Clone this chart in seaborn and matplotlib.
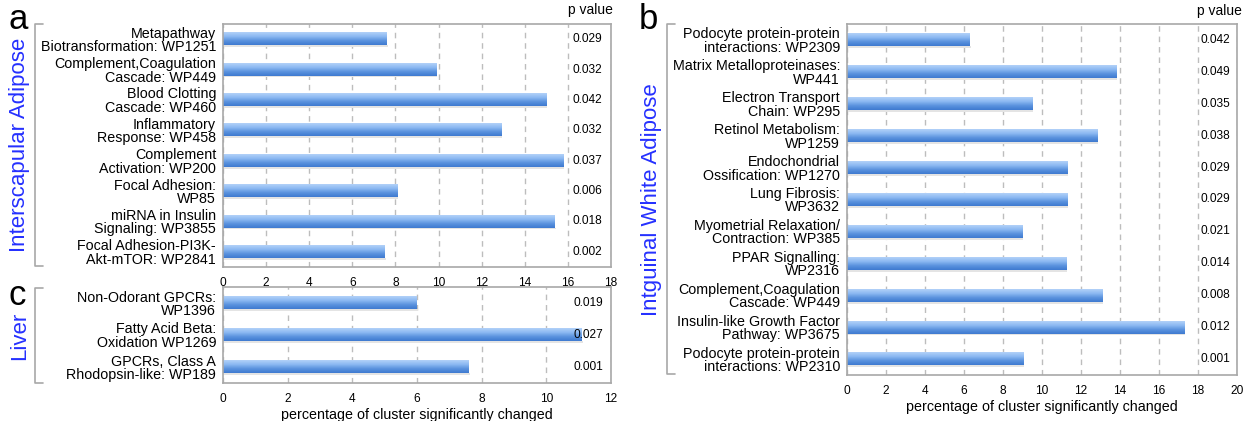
import numpy as np
import pandas as pd
import matplotlib
matplotlib.use("Agg")
import matplotlib.pyplot as plt
import seaborn as sns
from matplotlib.colors import LinearSegmentedColormap
from matplotlib.lines import Line2D

# panel a: interscapular adipose
a_labels = [
    "Metapathway\nBiotransformation: WP1251",
    "Complement,Coagulation\nCascade: WP449",
    "Blood Clotting\nCascade: WP460",
    "Inflammatory\nResponse: WP458",
    "Complement\nActivation: WP200",
    "Focal Adhesion:\nWP85",
    "miRNA in Insulin\nSignaling: WP3855",
    "Focal Adhesion-PI3K-\nAkt-mTOR: WP2841",
]
a_values = [7.6, 9.9, 15.0, 12.9, 15.8, 8.1, 15.4, 7.5]
a_pvals = ["0.029", "0.032", "0.042", "0.032", "0.037", "0.006", "0.018", "0.002"]

# panel b: inguinal white adipose
b_labels = [
    "Podocyte protein-protein\ninteractions: WP2309",
    "Matrix Metalloproteinases:\nWP441",
    "Electron Transport\nChain: WP295",
    "Retinol Metabolism:\nWP1259",
    "Endochondrial\nOssification: WP1270",
    "Lung Fibrosis:\nWP3632",
    "Myometrial Relaxation/\nContraction: WP385",
    "PPAR Signalling:\nWP2316",
    "Complement,Coagulation\nCascade: WP449",
    "Insulin-like Growth Factor\nPathway: WP3675",
    "Podocyte protein-protein\ninteractions: WP2310",
]
b_values = [6.3, 13.8, 9.5, 12.85, 11.3, 11.3, 9.0, 11.25, 13.1, 17.3, 9.05]
b_pvals = ["0.042", "0.049", "0.035", "0.038", "0.029", "0.029",
           "0.021", "0.014", "0.008", "0.012", "0.001"]

# panel c: liver
c_labels = [
    "Non-Odorant GPCRs:\nWP1396",
    "Fatty Acid Beta:\nOxidation WP1269",
    "GPCRs, Class A\nRhodopsin-like: WP189",
]
c_values = [6.0, 11.1, 7.6]
c_pvals = ["0.019", "0.027", "0.001"]

W, H = 1255, 421
GRID = "#bdbdbd"
SPINE = "#a8a8a8"
BLUE = "#2530ff"
bar_cmap = LinearSegmentedColormap.from_list("bar", ["#b2d1f8", "#8cb9f2", "#5a92de", "#3f7ad0"])

sns.set_style("white")
plt.rcParams["font.family"] = ["Liberation Sans", "DejaVu Sans"]
plt.rcParams["text.color"] = "black"
plt.rcParams["axes.labelcolor"] = "black"


def px_axes(fig, left, top, right, bottom):
    return fig.add_axes([left / W, 1 - bottom / H, (right - left) / W, (bottom - top) / H])


def draw_panel(ax, labels, values, pvals, xmax, p_x, xlabel=None):
    df = pd.DataFrame({"pathway": labels, "pct": values})
    sns.barplot(data=df, x="pct", y="pathway", orient="h", width=0.4,
                color="#7fb0ef", ax=ax)
    n = len(labels)
    grad = np.linspace(0, 1, 64).reshape(-1, 1)
    for p in list(ax.patches):
        x0, y0, w, h = p.get_x(), p.get_y(), p.get_width(), p.get_height()
        # faint shadow under the bar
        ax.fill_between([x0, x0 + w + 0.04], y0 + h, y0 + h + 0.06,
                        color="#e4e4e4", lw=0, zorder=1.5)
        ax.imshow(grad, extent=(x0, x0 + w, y0 + h, y0), aspect="auto",
                  cmap=bar_cmap, zorder=2, interpolation="bilinear")
        p.set_visible(False)
    ax.set_xlim(0, xmax)
    ax.set_ylim(n - 0.5, -0.5)
    ax.set_xticks(np.arange(0, xmax + 1, 2))
    ax.set_axisbelow(True)
    ax.xaxis.grid(True, color=GRID, linestyle=(0, (4, 3.5)), lw=1)
    for s in ax.spines.values():
        s.set_visible(True)
        s.set_color(SPINE)
        s.set_linewidth(1.2)
    ax.set_yticks(np.arange(n), labels)
    ax.set_yticks(np.arange(-0.5, n, 1), minor=True)
    ax.tick_params(axis="y", which="major", length=0, pad=5, labelsize=10.3,
                   labelcolor="black")
    ax.tick_params(axis="y", which="minor", length=4, color=SPINE, width=1.2)
    ax.tick_params(axis="x", length=4, color=SPINE, width=1.2, labelsize=8.6, pad=3,
                   labelcolor="black")
    for lab in ax.get_yticklabels():
        lab.set_linespacing(0.95)
    ax.set_ylabel("")
    if xlabel:
        ax.set_xlabel(xlabel, fontsize=10.3, labelpad=2)
    else:
        ax.set_xlabel("")
    for i, pv in enumerate(pvals):
        ax.text(p_x, i, pv, ha="left", va="center", fontsize=8.6, zorder=5)


fig = plt.figure(figsize=(W / 100, H / 100), dpi=100)

ax_a = px_axes(fig, 223, 24, 611, 267)
draw_panel(ax_a, a_labels, a_values, a_pvals, 18, 16.2)
ax_a.text(1.005, 1.03, "p value", transform=ax_a.transAxes, ha="right", va="bottom", fontsize=10)

ax_c = px_axes(fig, 223, 287, 611, 383)
draw_panel(ax_c, c_labels, c_values, c_pvals, 12, 10.85,
           xlabel="percentage of cluster significantly changed")

ax_b = px_axes(fig, 847, 24, 1237, 375)
draw_panel(ax_b, b_labels, b_values, b_pvals, 20, 18.15,
           xlabel="percentage of cluster significantly changed")
ax_b.text(1.012, 1.018, "p value", transform=ax_b.transAxes, ha="right", va="bottom", fontsize=10)


# grey brackets and blue tissue names
def bracket(x, top, bottom, tick=8):
    xs = [(x + tick) / W, x / W, x / W, (x + tick) / W]
    ys = [1 - top / H, 1 - top / H, 1 - bottom / H, 1 - bottom / H]
    fig.add_artist(Line2D(xs, ys, color=SPINE, lw=1.2))


bracket(35, 24, 266)
bracket(35, 288, 383)
bracket(667, 24, 374)

fig.text(20 / W, 1 - 145 / H, "Interscapular Adipose", rotation=90, color=BLUE,
         fontsize=16, ha="center", va="center")
fig.text(20 / W, 1 - 336 / H, "Liver", rotation=90, color=BLUE,
         fontsize=16, ha="center", va="center")
fig.text(651 / W, 1 - 200 / H, "Intguinal White Adipose", rotation=90, color=BLUE,
         fontsize=16, ha="center", va="center")

for letter, x, y in [("a", 9, 3), ("b", 639, 3), ("c", 9, 279)]:
    fig.text(x / W, 1 - y / H, letter, fontsize=25, ha="left", va="top")

fig.savefig("out.png", dpi=100)
